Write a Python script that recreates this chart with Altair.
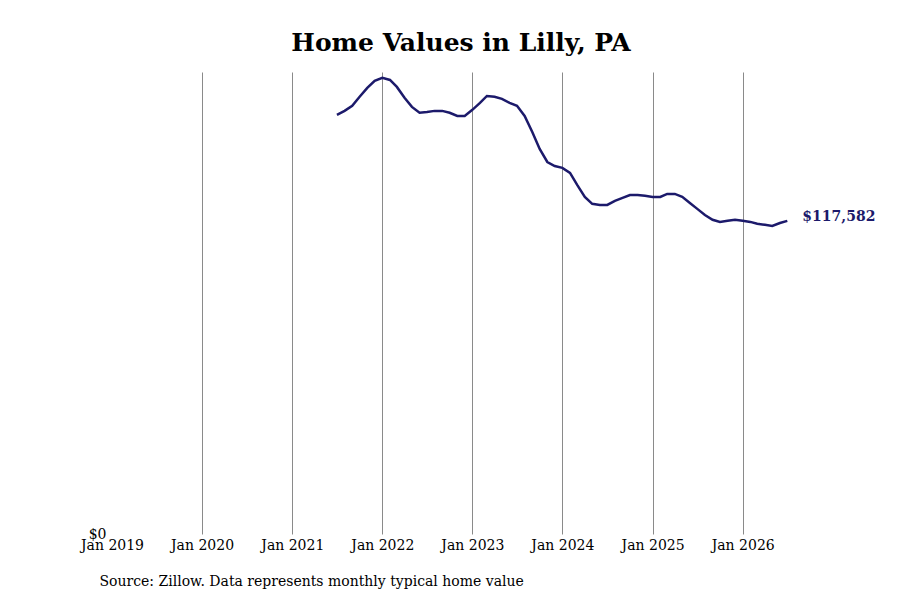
import pandas as pd
import altair as alt

months = pd.date_range("2021-07-01", "2026-07-01", freq="MS")
values = [
    157400, 158900, 160800, 164200, 167500, 170200,
    171300, 170500, 167900, 163800, 160400, 158200, 158500, 158900, 158900, 158200, 157000, 157000,
    159300, 161900, 164500, 164200, 163400, 161900, 160800, 157000, 151000, 144600, 139700, 138200,
    137500, 135600, 131100, 126600, 124000, 123600, 123600, 125100, 126200, 127300, 127300, 127000,
    126600, 126600, 127700, 127700, 126600, 124300, 122100, 119800, 118000, 117200, 117600, 118000,
    117600, 117200, 116500, 116100, 115700, 116800, 117582,
]

data = pd.DataFrame({"date": months, "value": values})
last = data.tail(1)

font = "DejaVu Serif"
navy = "#1c1a6b"

x_scale = alt.Scale(domain=[alt.DateTime(year=2019, month=1, date=1),
                            alt.DateTime(year=2026, month=10, date=1)])
y_scale = alt.Scale(domain=[0, 173500], nice=False)

line = alt.Chart(data).mark_line(color=navy, strokeWidth=2.5).encode(
    x=alt.X("date:T", scale=x_scale,
            axis=alt.Axis(
                format="%b %Y",
                tickCount={"interval": "year", "step": 1},
                labelFont=font, labelFontSize=14, labelColor="black",
                labelPadding=4, labelFlush=False, labelOverlap=False,
                ticks=False, domain=False,
                grid=True, gridColor={"condition": {"test": "year(datum.value) == 2019", "value": "transparent"},
                                      "value": "#8a8a8a"},
                gridWidth=1,
                title="Source: Zillow. Data represents monthly typical home value",
                titleFont=font, titleFontSize=14, titleFontWeight="normal",
                titleColor="black", titleAnchor="start", titleAlign="left",
                titleX=-13, titleY=47, titleBaseline="middle",
            )),
    y=alt.Y("value:Q", scale=y_scale,
            axis=alt.Axis(values=[0], format="$,.0f", title=None,
                          labelFont=font, labelFontSize=14, labelColor="black",
                          labelPadding=6, ticks=False, domain=False, grid=False)),
)

label = alt.Chart(last).mark_text(
    align="left", dx=15, dy=-4, font=font, fontSize=14, fontWeight="bold", color=navy
).encode(
    x=alt.X("date:T", scale=x_scale),
    y=alt.Y("value:Q", scale=y_scale),
    text=alt.Text("value:Q", format="$,.0f"),
)

chart = (line + label).properties(
    width=698,
    height=462,
    title=alt.TitleParams("Home Values in Lilly, PA", font=font, fontSize=25,
                          fontWeight="bold", color="black", offset=16, anchor="middle"),
    autosize=alt.AutoSizeParams(type="none"),
    padding={"left": 104, "top": 64, "right": 82, "bottom": 55},
).configure_view(stroke=None)

chart.save("out.html", embed_options={"renderer": "svg", "actions": False})
